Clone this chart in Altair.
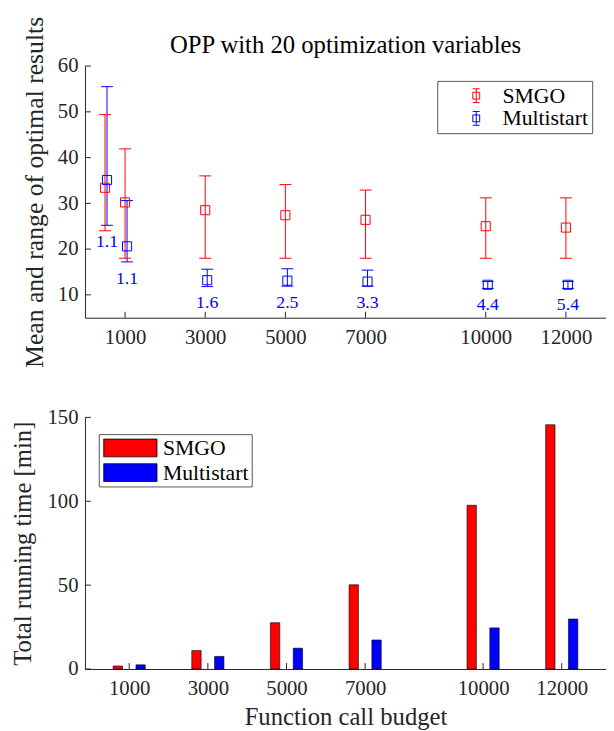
import altair as alt
import pandas as pd

# ---------------- data ----------------
series = ["SMGO", "Multistart"]
colors = ["#ff0000", "#0000ff"]

budgets_top = [500, 1000, 3000, 5000, 7000, 10000, 12000]
smgo_mean = [33.4, 30.2, 28.5, 27.4, 26.4, 25.0, 24.7]
smgo_min = [24.0, 18.0, 18.0, 18.0, 18.0, 18.0, 18.0]
smgo_max = [49.4, 41.9, 36.0, 34.1, 32.9, 31.2, 31.2]
multi_mean = [35.1, 20.6, 13.2, 13.1, 12.9, 12.2, 12.2]
multi_min = [25.2, 17.2, 11.8, 11.9, 11.9, 11.4, 11.4]
multi_max = [55.5, 30.6, 15.6, 15.7, 15.4, 12.9, 12.9]
ratio_labels = ["1.1", "1.1", "1.6", "2.5", "3.3", "4.4", "5.4"]

budgets_bot = [1000, 3000, 5000, 7000, 10000, 12000]
smgo_time = [1.8, 11.0, 27.6, 50.2, 97.6, 145.6]
multi_time = [2.5, 7.5, 12.4, 17.3, 24.5, 29.8]

x_ticks = [1000, 3000, 5000, 7000, 10000, 12000]
y_ticks_top = [10, 20, 30, 40, 50, 60]
y_ticks_bot = [0, 50, 100, 150]

# ---------------- tables ----------------
rows = []
for i, b in enumerate(budgets_top):
    rows.append(dict(budget=b, series="SMGO", mean=smgo_mean[i], lo=smgo_min[i],
                     hi=smgo_max[i], label=""))
    rows.append(dict(budget=b, series="Multistart", mean=multi_mean[i], lo=multi_min[i],
                     hi=multi_max[i], label=ratio_labels[i]))
top_df = pd.DataFrame(rows)

brows = []
for i, b in enumerate(budgets_bot):
    brows.append(dict(budget=b, series="SMGO", time=smgo_time[i]))
    brows.append(dict(budget=b, series="Multistart", time=multi_time[i]))
bot_df = pd.DataFrame(brows)

FONT = "Liberation Serif"
INK = "#262626"
W, H = 528, 255

xscale = alt.Scale(domain=[0, 13000], nice=False, zero=False)
ytop_scale = alt.Scale(domain=[5, 60], nice=False, zero=False)
ybot_scale = alt.Scale(domain=[0, 150], nice=False)
cscale = alt.Scale(domain=series, range=colors)

xaxis = alt.Axis(values=x_ticks, ticks=False, labelPadding=9, grid=False, format="d")
yaxis_top = alt.Axis(values=y_ticks_top, ticks=False, labelPadding=7, grid=False,
                     titlePadding=10, titleFontSize=26)
yaxis_bot = alt.Axis(values=y_ticks_bot, ticks=False, labelPadding=7, grid=False,
                     titlePadding=12)

TOP_YT = "Mean and range of optimal results"
BOT_YT = "Total running time [min]"
BOT_XT = "Function call budget"

err_path = "M3,-1H4M3.5,-1V1M3,1H4M3,-0.5H4V0.5H3Z"
top_legend = alt.Legend(title=None, orient="none", legendX=357, legendY=15,
                        symbolType=err_path, symbolSize=196,
                        symbolStrokeWidth=1, symbolFillColor="transparent",
                        labelFont=FONT, labelFontSize=22, labelColor="#000",
                        labelOffset=40, rowPadding=1, padding=4,
                        fillColor="white", strokeColor="#555", labelLimit=300)

# ---------------- top panel ----------------
base_top = alt.Chart(top_df).transform_calculate(
    xpos="datum.budget + (datum.series == 'Multistart' ? 50 : 0)"
)

def xt():
    return alt.X("xpos:Q", scale=xscale, axis=xaxis, title=None)

def yt(field):
    return alt.Y(f"{field}:Q", scale=ytop_scale, axis=yaxis_top, title=TOP_YT)

def ct():
    return alt.Color("series:N", scale=cscale, legend=top_legend)

rules = base_top.mark_rule(strokeWidth=1).encode(
    x=xt(), y=yt("lo"), y2="hi:Q", color=ct())
cap_lo = base_top.mark_point(shape="M-1,0L1,0", filled=False, size=144,
                             strokeWidth=1, opacity=1).encode(
    x=xt(), y=yt("lo"), color=ct())
cap_hi = base_top.mark_point(shape="M-1,0L1,0", filled=False, size=144,
                             strokeWidth=1, opacity=1).encode(
    x=xt(), y=yt("hi"), color=ct())
squares = base_top.mark_point(shape="square", filled=False, size=85, strokeWidth=1,
                              opacity=1).encode(
    x=xt(), y=yt("mean"), color=ct())
labels = base_top.transform_filter("datum.series == 'Multistart'").mark_text(
    font=FONT, fontSize=18, color="#0000ff", dy=17, baseline="middle"
).encode(x=xt(), y=yt("lo"), text="label:N")

xt_top = alt.Chart(pd.DataFrame({"xpos": x_ticks})).mark_rule(color=INK).encode(
    x=xt(), y=alt.value(H), y2=alt.value(H - 6))
yt_top = alt.Chart(pd.DataFrame({"lo": y_ticks_top})).mark_rule(color=INK).encode(
    y=yt("lo"), x=alt.value(0), x2=alt.value(6))

top = alt.layer(rules, cap_lo, cap_hi, squares, labels, xt_top, yt_top).properties(
    width=W, height=H,
    title=alt.TitleParams("OPP with 20 optimization variables", font=FONT, fontSize=25,
                          fontWeight="normal", color="#000", offset=-42),
)

# ---------------- bottom panel ----------------
bar_path = "M-1,-1H5V1H-1Z"
bot_legend = alt.Legend(title=None, orient="none", legendX=14, legendY=17,
                        symbolType=bar_path, symbolSize=324,
                        symbolStrokeColor="black", symbolStrokeWidth=0.8,
                        labelFont=FONT, labelFontSize=22, labelColor="#000",
                        labelOffset=40, rowPadding=3, padding=3,
                        fillColor="white", strokeColor="#555", labelLimit=300)

def xb():
    return alt.X("xpos:Q", scale=xscale, axis=xaxis, title=BOT_XT)

def yb():
    return alt.Y("time:Q", scale=ybot_scale, axis=yaxis_bot, title=BOT_YT)

bars = alt.Chart(bot_df).transform_calculate(
    xpos="datum.budget + (datum.series == 'SMGO' ? -290 : 290)"
).mark_bar(size=9.5, stroke="black", strokeWidth=0.6).encode(
    x=xb(), y=yb(),
    color=alt.Color("series:N", scale=cscale, legend=bot_legend),
)
xt_bot = alt.Chart(pd.DataFrame({"xpos": x_ticks})).mark_rule(color=INK).encode(
    x=xb(), y=alt.value(H), y2=alt.value(H - 6))
yt_bot = alt.Chart(pd.DataFrame({"time": y_ticks_bot})).mark_rule(color=INK).encode(
    y=yb(), x=alt.value(0), x2=alt.value(6))

bottom = alt.layer(bars, xt_bot, yt_bot).properties(width=W, height=H)

chart = alt.vconcat(top, bottom, spacing=39).resolve_scale(
    color="independent").resolve_legend(color="independent").properties(
    padding={"left": 2, "right": 0, "top": 3, "bottom": 0}
).configure_view(stroke=None).configure_axis(
    domainColor=INK, domainWidth=1, labelFont=FONT, labelFontSize=21, labelColor=INK,
    titleFont=FONT, titleFontSize=25, titleFontWeight="normal", titleColor=INK,
).configure_axisX(titlePadding=6)

chart.save("out.html", embed_options={"renderer": "svg", "actions": False})
